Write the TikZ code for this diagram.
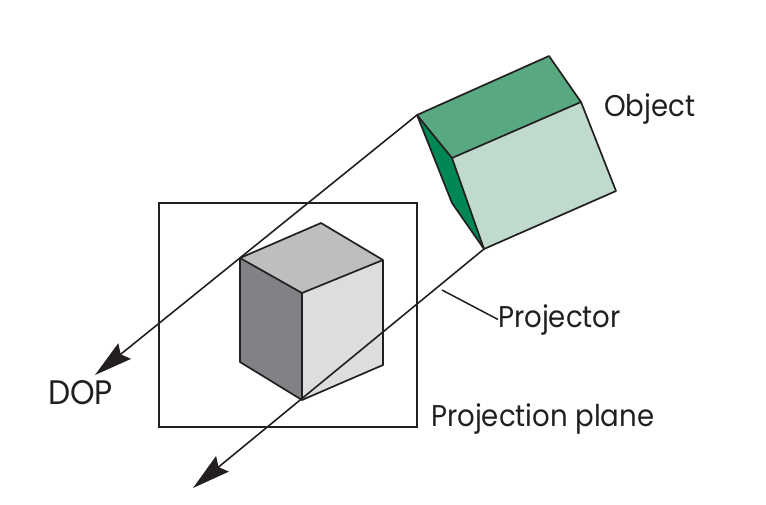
\documentclass[tikz,border=0pt]{standalone}
\usepackage{fontspec}
\setmainfont[FakeStretch=0.92]{Poppins}
\usetikzlibrary{arrows.meta}
\definecolor{gtop}{RGB}{189,190,192}
\definecolor{gleft}{RGB}{128,130,133}
\definecolor{gright}{RGB}{220,221,222}
\definecolor{ink}{RGB}{35,31,32}
\definecolor{otop}{RGB}{88,169,129}
\definecolor{oright}{RGB}{192,219,205}
\definecolor{oleft}{RGB}{0,136,84}
\tikzset{
  edge/.style={draw=ink,line width=1.7pt,line join=round},
  thin edge/.style={draw=ink,line width=1.5pt},
  ray/.style={draw=ink,line width=1.6pt,-{Stealth[length=38pt,width=20pt,inset=5pt]}},
  lab/.style={anchor=base west,inner sep=0pt,text=ink,font=\fontsize{30}{32}\selectfont}
}
\begin{document}
\begin{tikzpicture}[x=1pt,y=-1pt]
\useasboundingbox (0,0) rectangle (766,504);
% plane
\coordinate (p1) at (159,203); \coordinate (p2) at (417,427);
\draw[thin edge] (p1) rectangle (p2);
% grey cube
\coordinate (a) at (240,258); \coordinate (b) at (321,223); \coordinate (c) at (383,260);
\coordinate (d) at (302,293); \coordinate (e) at (240,362); \coordinate (f) at (302,400); \coordinate (g) at (383,365);
\fill[gtop] (a)--(b)--(c)--(d)--cycle;
\fill[gleft] (a)--(d)--(f)--(e)--cycle;
\fill[gright] (d)--(c)--(g)--(f)--cycle;
\draw[edge] (a)--(b)--(c)--(g)--(f)--(e)--cycle (a)--(d)--(c) (d)--(f);
% object
\coordinate (A) at (417,115); \coordinate (B) at (549,56); \coordinate (C) at (581,102);
\coordinate (D) at (452,158); \coordinate (E) at (616,191); \coordinate (F) at (484,249); \coordinate (G) at (452,203);
\fill[otop] (A)--(B)--(C)--(D)--cycle;
\fill[oright] (D)--(C)--(E)--(F)--cycle;
\fill[oleft] (A)--(D)--(F)--(G)--cycle;
\draw[edge] (A)--(B)--(C)--(E)--(F)--(G)--cycle (A)--(D)--(C) (D)--(F);
% rays
\coordinate (t1) at (95,375); \coordinate (t2) at (193,488);
\draw[ray] (A)--(t1);
\draw[ray] (F)--(t2);
% labels
\node[lab] (object) at (604,116) {Object};
\node[lab] (projector) at (498,327) {Projector};
\node[lab,font=\fontsize{34}{36}\selectfont] (dop) at (48,404) {DOP};
\node[lab] (plane) at (431,426) {Projection plane};
\coordinate (lead) at (442,290);
\draw[thin edge] (lead)--(projector.west);
\end{tikzpicture}
\end{document}
